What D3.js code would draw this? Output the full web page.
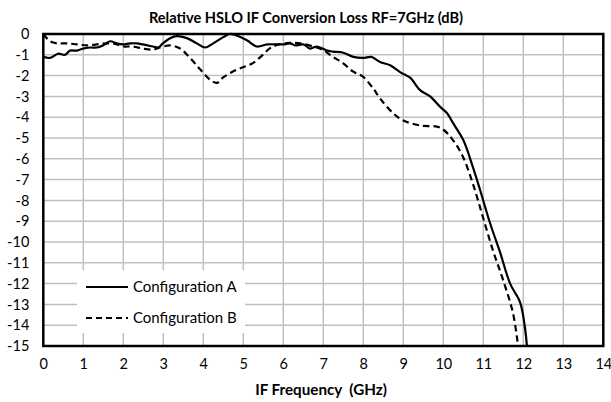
<!DOCTYPE html>
<html><head><meta charset="utf-8">
<script src="https://cdn.jsdelivr.net/npm/d3@7"></script>
<style>body{margin:0;background:#fff}text{font-family:Lato,"Open Sans",sans-serif}</style>
</head><body><svg id="c" width="611" height="402"></svg>
<script>
const title = "Relative HSLO IF Conversion Loss RF=7GHz (dB)";
const xTitle = "IF Frequency  (GHz)";
const xTicks = d3.range(0, 15, 1);
const yTicks = d3.range(0, -16, -1);
const seriesNames = ["Configuration A", "Configuration B"];
const configA = [
 [0,-1.1],[0.17,-1.15],[0.37,-0.95],[0.54,-1.0],[0.67,-0.8],[0.84,-0.8],[0.99,-0.7],[1.17,-0.65],[1.34,-0.65],
 [1.49,-0.55],[1.67,-0.35],[1.84,-0.45],[1.99,-0.5],[2.17,-0.45],[2.34,-0.45],[2.49,-0.5],[2.74,-0.6],[2.87,-0.65],
 [2.99,-0.45],[3.17,-0.2],[3.34,-0.1],[3.59,-0.2],[3.84,-0.45],[4.05,-0.65],[4.25,-0.45],[4.5,-0.15],[4.67,0],
 [4.8,-0.05],[5.09,-0.3],[5.34,-0.6],[5.6,-0.5],[6.0,-0.5],[6.17,-0.45],[6.3,-0.55],[6.5,-0.5],[6.67,-0.7],
 [6.84,-0.6],[7.1,-0.8],[7.25,-0.85],[7.5,-0.9],[7.75,-1.1],[8.0,-1.15],[8.2,-1.1],[8.42,-1.35],[8.67,-1.5],
 [8.92,-1.83],[9.17,-2.1],[9.42,-2.7],[9.67,-3.0],[9.92,-3.5],[10.09,-3.8],[10.25,-4.3],[10.5,-5.1],[10.74,-6.4],
 [10.92,-7.5],[11.17,-9.1],[11.42,-10.5],[11.67,-12.0],[11.92,-12.9],[12.04,-14.1],[12.09,-15]
];
const configB = [
 [0,0],[0.17,-0.35],[0.34,-0.45],[0.59,-0.45],[0.84,-0.5],[1.09,-0.55],[1.34,-0.5],[1.59,-0.45],[1.84,-0.5],
 [2.0,-0.6],[2.24,-0.6],[2.49,-0.7],[2.74,-0.75],[2.92,-0.65],[3.17,-0.55],[3.42,-0.7],[3.67,-1.15],[3.92,-1.7],
 [4.17,-2.2],[4.34,-2.35],[4.49,-2.1],[4.74,-1.8],[4.99,-1.6],[5.24,-1.4],[5.49,-1.0],[5.67,-0.68],[5.92,-0.48],
 [6.17,-0.43],[6.42,-0.45],[6.74,-0.6],[6.99,-0.77],[7.24,-1.1],[7.49,-1.4],[7.74,-1.8],[7.99,-2.05],[8.24,-2.6],
 [8.42,-3.1],[8.74,-3.8],[8.99,-4.15],[9.42,-4.4],[9.92,-4.5],[10.24,-5.1],[10.49,-5.9],[10.74,-7.2],[10.99,-8.8],
 [11.24,-10.4],[11.49,-11.8],[11.74,-13.4],[11.87,-15]
];

const svg = d3.select("#c");
const m = {l:43.3, r:603.3, t:34, b:346};
const x = d3.scaleLinear().domain([0,14]).range([m.l, m.r]);
const y = d3.scaleLinear().domain([0,-15]).range([m.t, m.b]);

svg.append("text").attr("x",306).attr("y",22.5).attr("text-anchor","middle")
  .attr("font-weight","bold").attr("font-size",14.6).text(title);

// grid
svg.append("g").selectAll("line").data(xTicks.slice(1,-1)).join("line")
  .attr("x1",d=>x(d)).attr("x2",d=>x(d)).attr("y1",m.t).attr("y2",m.b)
  .attr("stroke","#bfbfbf").attr("stroke-width",1.5);
svg.append("g").selectAll("line").data(yTicks.slice(1,-1)).join("line")
  .attr("y1",d=>y(d)).attr("y2",d=>y(d)).attr("x1",m.l).attr("x2",m.r)
  .attr("stroke","#bfbfbf").attr("stroke-width",1.5);

// axes labels
const xa = svg.append("g").attr("transform",`translate(0,${m.b})`)
  .call(d3.axisBottom(x).tickValues(xTicks).tickSize(0).tickPadding(13).tickFormat(d3.format("d")));
xa.select(".domain").remove();
xa.selectAll("text").attr("font-size",14.5).attr("font-family","Lato").attr("fill","#000");
const ya = svg.append("g").attr("transform",`translate(${m.l},0)`)
  .call(d3.axisLeft(y).tickValues(yTicks).tickSize(0).tickPadding(14).tickFormat(d=>d3.format("d")(d).replace("−","-")));
ya.select(".domain").remove();
ya.selectAll("text").attr("font-size",14.5).attr("font-family","Lato").attr("fill","#000");

svg.append("text").attr("x",321).attr("y",395).attr("text-anchor","middle")
  .attr("font-weight","bold").attr("font-size",15.2).style("white-space","pre").text(xTitle);

// legend background
const lg = svg.append("g");
lg.append("rect").attr("x",77).attr("y",270).attr("width",168).attr("height",63).attr("fill","#fff");

// clip
svg.append("clipPath").attr("id","cp").append("rect").attr("x",m.l).attr("y",m.t-2).attr("width",m.r-m.l).attr("height",m.b-m.t+2);
const line = d3.line().x(d=>x(d[0])).y(d=>y(d[1])).curve(d3.curveCatmullRom.alpha(0.5));
const g = svg.append("g").attr("clip-path","url(#cp)");
g.append("path").datum(configB).attr("d",line).attr("fill","none").attr("stroke","#000").attr("stroke-width",2.2).attr("stroke-dasharray","6.5,4");
g.append("path").datum(configA).attr("d",line).attr("fill","none").attr("stroke","#000").attr("stroke-width",2.2);

// border
svg.append("rect").attr("x",m.l).attr("y",m.t).attr("width",m.r-m.l).attr("height",m.b-m.t)
  .attr("fill","none").attr("stroke","#000").attr("stroke-width",2.5);

// legend
const items = [{n:seriesNames[0],dash:null,y:287},{n:seriesNames[1],dash:"6,4",y:318}];
items.forEach(it=>{
  lg.append("line").attr("x1",86).attr("x2",128).attr("y1",it.y).attr("y2",it.y)
    .attr("stroke","#000").attr("stroke-width",2.2).attr("stroke-dasharray",it.dash);
  lg.append("text").attr("x",133).attr("y",it.y+5).attr("font-size",15).text(it.n);
});
</script></body></html>
